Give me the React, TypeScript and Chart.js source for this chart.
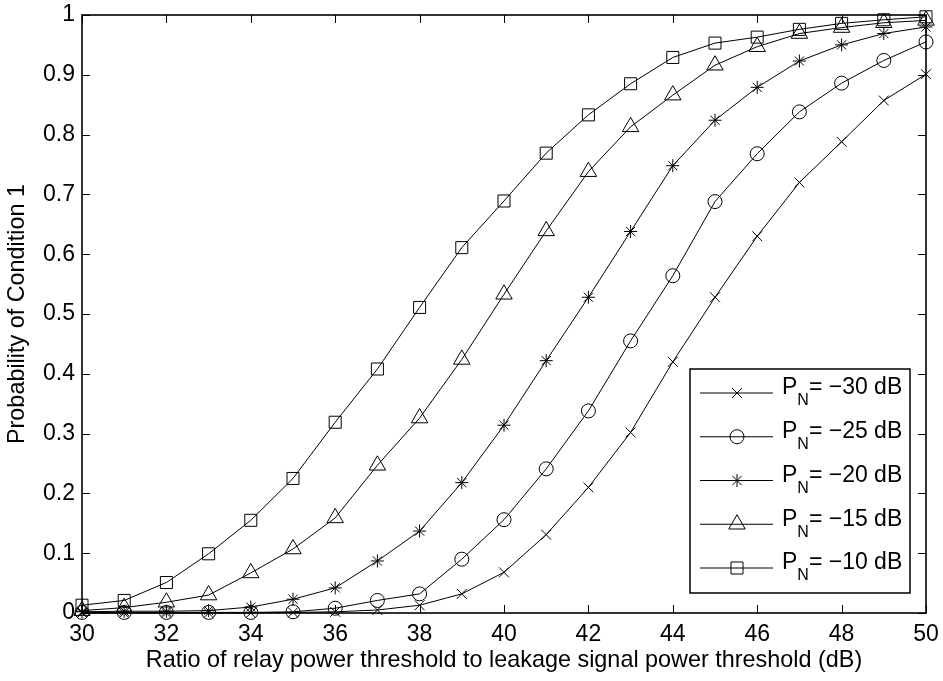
import React, { useEffect, useRef } from 'react';
import { Chart, registerables } from 'chart.js';
import { drawPoint } from 'chart.js/helpers';

Chart.register(...registerables);

const xValues = [30, 31, 32, 33, 34, 35, 36, 37, 38, 39, 40, 41, 42, 43, 44, 45, 46, 47, 48, 49, 50];
const xTicks = [30, 32, 34, 36, 38, 40, 42, 44, 46, 48, 50];
const yTicks = [0, 0.1, 0.2, 0.3, 0.4, 0.5, 0.6, 0.7, 0.8, 0.9, 1];
const yTickLabels = ['0', '0.1', '0.2', '0.3', '0.4', '0.5', '0.6', '0.7', '0.8', '0.9', '1'];

const pn30 = [0, 0, 0, 0, 0, 0.001, 0.002, 0.005, 0.013, 0.032, 0.068, 0.131, 0.21, 0.302, 0.42, 0.528, 0.63, 0.72, 0.788, 0.857, 0.901];
const pn25 = [0.001, 0.001, 0.001, 0.001, 0.001, 0.002, 0.008, 0.021, 0.032, 0.09, 0.156, 0.241, 0.338, 0.455, 0.564, 0.688, 0.768, 0.838, 0.886, 0.924, 0.955];
const pn20 = [0.002, 0.003, 0.003, 0.004, 0.01, 0.023, 0.042, 0.087, 0.137, 0.218, 0.314, 0.422, 0.528, 0.638, 0.748, 0.824, 0.879, 0.923, 0.95, 0.969, 0.98];
const pn15 = [0.004, 0.009, 0.018, 0.03, 0.067, 0.107, 0.159, 0.247, 0.326, 0.424, 0.533, 0.639, 0.738, 0.813, 0.866, 0.916, 0.947, 0.969, 0.979, 0.987, 0.991];
const pn10 = [0.013, 0.021, 0.051, 0.099, 0.155, 0.225, 0.319, 0.408, 0.511, 0.611, 0.689, 0.769, 0.833, 0.885, 0.929, 0.953, 0.963, 0.976, 0.986, 0.992, 0.997];

const seriesNames = ['−30 dB', '−25 dB', '−20 dB', '−15 dB', '−10 dB'];
const seriesValues = [pn30, pn25, pn20, pn15, pn10];
const seriesMarkers = ['crossRot', 'circle', 'star', 'triangle', 'rect'];
const markerSizes = [7, 7, 6.5, 9.5, 8.5];

const xTitle = 'Ratio of relay power threshold to leakage signal power threshold (dB)';
const yTitle = 'Probability of Condition 1';

const FONT = "'Liberation Sans', Arial, Helvetica, sans-serif";

const boxPlugin = {
  id: 'matlabBox',
  afterDatasetsDraw(chart: any) {
    const { ctx, chartArea: a, scales } = chart;
    ctx.save();
    ctx.strokeStyle = '#000';
    ctx.lineWidth = 1;
    const L = 8;
    ctx.beginPath();
    for (const v of xTicks) {
      const px = Math.round(scales.x.getPixelForValue(v)) + 0.5;
      ctx.moveTo(px, a.bottom);
      ctx.lineTo(px, a.bottom - L);
      ctx.moveTo(px, a.top);
      ctx.lineTo(px, a.top + L);
    }
    for (const v of yTicks) {
      const py = Math.round(scales.y.getPixelForValue(v)) + 0.5;
      ctx.moveTo(a.left, py);
      ctx.lineTo(a.left + L, py);
      ctx.moveTo(a.right, py);
      ctx.lineTo(a.right - L, py);
    }
    ctx.stroke();
    ctx.lineWidth = 1.6;
    ctx.strokeRect(a.left, a.top, a.right - a.left, a.bottom - a.top);
    ctx.restore();
  },
};

const legendPlugin = {
  id: 'matlabLegend',
  afterDraw(chart: any) {
    const { ctx, chartArea: a } = chart;
    const w = 220;
    const h = 224;
    const right = a.right - 16;
    const bottom = a.bottom - 20;
    const left = right - w;
    const top = bottom - h;
    ctx.save();
    ctx.fillStyle = '#fff';
    ctx.fillRect(left, top, w, h);
    ctx.strokeStyle = '#000';
    ctx.lineWidth = 1.5;
    ctx.strokeRect(left, top, w, h);
    const ds = chart.data.datasets;
    for (let i = 0; i < ds.length; i++) {
      const y = top + 24 + i * 43.75;
      ctx.lineWidth = 1;
      ctx.strokeStyle = '#000';
      ctx.beginPath();
      ctx.moveTo(left + 10, y);
      ctx.lineTo(left + 83, y);
      ctx.stroke();
      ctx.fillStyle = 'rgba(0,0,0,0)';
      drawPoint(ctx, { pointStyle: ds[i].pointStyle, radius: ds[i].pointRadius, rotation: 0, borderWidth: 1 }, left + 47, y);
      ctx.fillStyle = '#000';
      ctx.textBaseline = 'middle';
      ctx.textAlign = 'left';
      ctx.font = `23px ${FONT}`;
      const tx = left + 92;
      ctx.fillText('P', tx, y - 5);
      const pw = ctx.measureText('P').width;
      ctx.font = `16px ${FONT}`;
      ctx.fillText('N', tx + pw, y + 8);
      const nw = ctx.measureText('N').width;
      ctx.font = `23px ${FONT}`;
      ctx.fillText('= ' + seriesNames[i], tx + pw + nw, y - 5);
    }
    ctx.restore();
  },
};

export default function App() {
  const ref = useRef<HTMLCanvasElement | null>(null);
  useEffect(() => {
    if (!ref.current) return;
    const datasets = seriesValues.map((vals, i) => ({
      label: 'P_N= ' + seriesNames[i],
      data: vals.map((v, j) => ({ x: xValues[j], y: v })),
      borderColor: '#000',
      backgroundColor: 'rgba(0,0,0,0)',
      borderWidth: 1,
      pointStyle: seriesMarkers[i],
      pointRadius: markerSizes[i],
      pointBorderColor: '#000',
      pointBackgroundColor: 'rgba(0,0,0,0)',
      pointBorderWidth: 1,
      tension: 0,
      fill: false,
      clip: false,
    }));
    const chart = new Chart(ref.current, {
      type: 'line',
      data: { datasets },
      plugins: [boxPlugin, legendPlugin],
      options: {
        animation: false,
        responsive: false,
        maintainAspectRatio: false,
        events: [],
        layout: { padding: { top: 15, right: 17, left: 0, bottom: 0 } },
        plugins: { legend: { display: false }, tooltip: { enabled: false } },
        scales: {
          x: {
            type: 'linear',
            min: 30,
            max: 50,
            afterBuildTicks: (s: any) => {
              s.ticks = xTicks.map((v) => ({ value: v }));
            },
            afterFit: (s: any) => {
              s.height = 68;
              s.paddingLeft = 0;
              s.paddingRight = 0;
            },
            ticks: {
              color: '#000',
              font: { family: FONT, size: 23 },
              padding: 8,
              maxRotation: 0,
              autoSkip: false,
              callback: (v: any) => String(v),
            },
            grid: { display: false, drawTicks: false },
            border: { display: false },
            title: {
              display: true,
              text: xTitle,
              color: '#000',
              font: { family: FONT, size: 23.4 },
              padding: { top: 0, bottom: 6 },
            },
          },
          y: {
            type: 'linear',
            min: 0,
            max: 1,
            afterBuildTicks: (s: any) => {
              s.ticks = yTicks.map((v) => ({ value: v }));
            },
            afterFit: (s: any) => {
              s.width = 82;
              s.paddingTop = 0;
              s.paddingBottom = 0;
            },
            ticks: {
              color: '#000',
              font: { family: FONT, size: 23 },
              padding: 7,
              autoSkip: false,
              callback: (v: any) => {
                const idx = yTicks.findIndex((t) => Math.abs(t - v) < 1e-9);
                return idx >= 0 ? yTickLabels[idx] : '';
              },
            },
            grid: { display: false, drawTicks: false },
            border: { display: false },
            title: {
              display: true,
              text: yTitle,
              color: '#000',
              font: { family: FONT, size: 23.4 },
              padding: { top: 4, bottom: 0 },
            },
          },
        },
      },
    } as any);
    return () => chart.destroy();
  }, []);
  return (
    <div style={{ position: 'fixed', left: 0, top: 0, width: 943, height: 681, background: '#fff' }}>
      <canvas ref={ref} width={943} height={681} style={{ display: 'block' }} />
    </div>
  );
}
